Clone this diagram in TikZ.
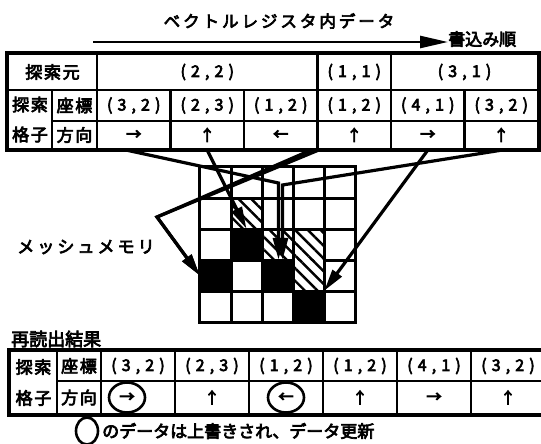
\documentclass[tikz,border=0pt]{standalone}
\usepackage{fontspec}
\usetikzlibrary{arrows.meta,patterns.meta,shapes.geometric}
\newfontfamily\jp{Noto Sans CJK JP}[FakeBold=4]
\newfontfamily\jpn{Noto Sans CJK JP}[FakeBold=4,LetterSpace=32]
\newfontfamily\jpt{Noto Sans CJK JP}[FakeBold=4,LetterSpace=18]
\newfontfamily\jpl{Noto Sans CJK JP}[FakeBold=4,LetterSpace=10]
\newfontfamily\jpa{Noto Sans CJK JP}[FakeBold=6]
\begin{document}
\begin{tikzpicture}[x=1pt,y=-1pt,
  tc/.style n args={2}{draw,line width=2.4pt,inner sep=0pt,minimum width=#1,minimum height=#2},
  jpf/.style={font=\jpl\fontsize{17}{30}\selectfont,align=center},
  numf/.style={font=\jpn\fontsize{16}{16}\selectfont},
  arrf/.style={font=\jpa\fontsize{15}{15}\selectfont},
  gcell/.style={inner sep=0pt,minimum size=31pt},
  gl/.style={line width=3pt},
  conn/.style={line width=3.2pt,-{Triangle[length=22pt,width=11pt]}},
  oval/.style={draw,ellipse,line width=2.6pt,inner sep=0pt,minimum width=#1,minimum height=30pt,font=\jpa\fontsize{15}{15}\selectfont},
  hatch/.style={pattern={Lines[angle=-45,distance=9pt,line width=2.4pt]}}
]
\useasboundingbox (0,0) rectangle (541,444);
\fill[white] (0,0) rectangle (541,444);

% title and write-order arrow
\node[font=\jpt\fontsize{16.5}{16.5}\selectfont,inner sep=0pt] (title) at (279,21) {ベクトルレジスタ内データ};
\node[font=\jp\fontsize{17}{17}\selectfont,inner sep=0pt,anchor=west] (wo) at (448,39) {書込み順};
\coordinate (as) at (93,42);
\draw[line width=2.6pt,-{Triangle[length=28pt,width=12pt]}] (as) -- (as -| wo.west);

% top table
\node[tc={89pt}{36pt},jpf] (h0) at (52.5,72) {探索元};
\node[tc={220.5pt}{36pt},numf] (h1) at (207.25,72) {(2,2)};
\node[tc={73.5pt}{36pt},numf] (h2) at (354.25,72) {(1,1)};
\node[tc={147pt}{36pt},numf] (h3) at (464.5,72) {(3,1)};
\node[tc={44pt}{59pt},jpf] (tl) at (30,119.5) {探索\\格子};
\node[tc={45pt}{31pt},jpf] (tz) at (74.5,105.5) {座標};
\node[tc={45pt}{28pt},jpf] (th) at (74.5,135) {方向};
\foreach \i/\x/\t/\a in {1/133.75/{(3,2)}/→,2/207.25/{(2,3)}/↑,3/280.75/{(1,2)}/←,4/354.25/{(1,2)}/↑,5/427.75/{(4,1)}/→,6/501.25/{(3,2)}/↑}{
  \node[tc={73.5pt}{31pt},numf] (c\i) at (\x,105.5) {\t};
  \node[tc={73.5pt}{28pt},arrf] (d\i) at (\x,135) {\a};
}
\draw[line width=3.2pt] (h0.north west) rectangle (d6.south east);

% mesh memory
\node[font=\jpt\fontsize{17}{17}\selectfont,inner sep=0pt] (mm) at (86,247) {メッシュメモリ};
\foreach \r in {1,...,5}{
  \foreach \c in {1,...,5}{
    \node[gcell] (g\r\c) at ({200+31*(\c-0.5)},{167+31*(\r-0.5)}) {};
  }
}
\foreach \n in {32,41,43,54}{\fill (g\n.south west) rectangle (g\n.north east);}
\foreach \n in {22,33,34,44}{\fill[hatch] (g\n.south west) rectangle (g\n.north east);}
\foreach \c in {1,...,4}{\draw[gl] (g1\c.north east) -- (g5\c.south east);}
\foreach \r in {1,2,4}{\draw[gl] (g\r1.south west) -- (g\r5.south east);}
\draw[gl] (g31.south west) -- (g33.south east);
\draw[gl] (g35.south west) -- (g35.south east);
\draw[line width=3.2pt] (g11.north west) rectangle (g55.south east);

% connectors
\coordinate (b1) at (278.5,183);
\coordinate (b2) at (282.5,185);
\coordinate (b3) at (157,217);
\draw[conn] ([xshift=-7pt]d1.south) -- (b1) -- (b1 |- g43.north);
\draw[conn] (d6.south) -- (b2) -- (b2 |- g43.north);
\draw[conn] (d2.south) -- (g32.north);
\draw[conn] ([xshift=-8pt]d3.south east) -- (b3) -- (g41.west);
\draw[conn] ([xshift=2pt]d4.south west) -- (b3) -- (g41.west);
\draw[conn] (d5.south) -- (g54.north east);

% re-read result
\node[font=\jp\fontsize{18}{18}\selectfont,inner sep=0pt,anchor=west] (rr) at (11,339) {再読出結果};
\node[tc={47pt}{63pt},jpf,font=\jpl\fontsize{17}{31}\selectfont] (bl) at (33.5,382.5) {探索\\格子};
\node[tc={44pt}{30pt},jpf] (bz) at (79,366) {座標};
\node[tc={44pt}{33pt},jpf] (bh) at (79,397.5) {方向};
\foreach \i/\x/\t/\a in {1/138/{(3,2)}/{},2/212/{(2,3)}/↑,3/286/{(1,2)}/{},4/360/{(1,2)}/↑,5/434/{(4,1)}/→,6/508/{(3,2)}/↑}{
  \node[tc={74pt}{30pt},numf] (e\i) at (\x,366) {\t};
  \node[tc={74pt}{33pt},arrf] (f\i) at (\x,397.5) {\a};
}
\draw[line width=3.2pt] (bl.north west) rectangle (f6.south east);
\node[oval=36pt] (o1) at (127,397.5) {→};
\node[oval=36pt] (o2) at (286,397.5) {←};

% footnote
\node[draw,ellipse,line width=2.6pt,minimum width=22pt,minimum height=27pt,inner sep=0pt] (fo) at (87,431) {};
\node[font=\jp\fontsize{17}{17}\selectfont,inner sep=0pt,anchor=west] (ft) at (102,431) {のデータは上書きされ、データ更新};
\end{tikzpicture}
\end{document}
